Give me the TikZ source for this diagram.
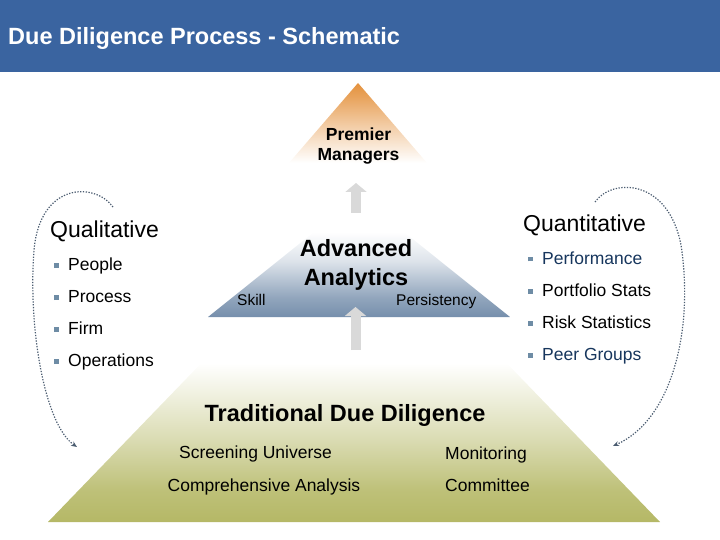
\documentclass[tikz,border=0pt]{standalone}
\usepackage{fontspec}
\setmainfont{Liberation Sans}
\usetikzlibrary{positioning,arrows.meta}

\definecolor{headblue}{RGB}{58,100,160}
\definecolor{pmorange}{RGB}{228,146,62}
\definecolor{aablue}{RGB}{118,143,172}
\definecolor{tddolive}{RGB}{181,184,102}
\definecolor{liftgrey}{RGB}{217,217,217}
\definecolor{loopgrey}{RGB}{75,92,112}
\definecolor{bulletblue}{RGB}{110,140,165}
\definecolor{navytext}{RGB}{23,54,93}

% fades: 25bp = bottom of the shape, 75bp = its top
\pgfdeclareverticalshading{pmfade}{100bp}{color(0bp)=(white); color(33bp)=(white); color(50bp)=(pmorange!40); color(68bp)=(pmorange!85); color(75bp)=(pmorange); color(100bp)=(pmorange)}
\pgfdeclareverticalshading{aafade}{100bp}{color(0bp)=(aablue); color(25bp)=(aablue); color(33bp)=(aablue!80); color(48bp)=(aablue!25); color(60bp)=(white); color(100bp)=(white)}
\pgfdeclareverticalshading{tddfade}{100bp}{color(0bp)=(tddolive); color(25bp)=(tddolive); color(30bp)=(tddolive!88); color(38bp)=(tddolive!50); color(50bp)=(white); color(100bp)=(white)}

\newcommand{\sqbullet}{{\color{bulletblue}\rule[2.5pt]{5pt}{5pt}}\hspace{9pt}}

\begin{document}
\begin{tikzpicture}[
  x=1pt, y=-1pt,
  headline/.style={font=\fontsize{23.5}{26}\selectfont\bfseries\color{white}, anchor=base west, inner sep=0},
  level/.style={font=\fontsize{23.5}{26}\selectfont\bfseries, anchor=base, inner sep=0},
  toplevel/.style={font=\fontsize{17.5}{20}\selectfont\bfseries, anchor=base, inner sep=0},
  sidehead/.style={font=\fontsize{23}{26}\selectfont, anchor=base west, inner sep=0},
  item/.style={font=\fontsize{17.5}{20}\selectfont, anchor=base west, inner sep=0},
  small/.style={font=\fontsize{15.5}{18}\selectfont, anchor=base west, inner sep=0},
  lift/.style={liftgrey, line width=10pt, -{Triangle[length=9pt, width=21pt]}},
  loop/.style={loopgrey, line width=1.2pt, dash pattern=on 1.3pt off 1.5pt, -{Stealth[length=6pt, width=5pt]}}
]
  \useasboundingbox (0,0) rectangle (720,540);
  \fill[headblue] (0,0) rectangle (720,72);
  \node (head) at (8,45) [headline] {Due Diligence Process - Schematic};

  % pyramid levels
  \shade[shading=tddfade] (354,205) -- (660,522) -- (48,522) -- cycle;
  \shade[shading=aafade] (359,196) -- (510,317) -- (208,317) -- cycle;
  \shade[shading=pmfade] (358,83) -- (440,178) -- (276,178) -- cycle;

  \node (premier) at (358.5,140.5) [toplevel] {Premier};
  \node (managers) [below=20.5pt of premier.base, toplevel] {Managers};

  \node (advanced) at (356,256.5) [level] {Advanced};
  \node (analytics) [below=28.5pt of advanced.base, level] {Analytics};
  \node (skill) at (237,305) [small] {Skill};
  \node (persist) at (396,305) [small] {Persistency};

  \node (tdd) at (345,421.5) [level] {Traditional Due Diligence};
  \node (screening) at (179,458.5) [item] {Screening Universe};
  \node (compre) [below=32.5pt of screening.base west, xshift=-11.5pt, item] {Comprehensive Analysis};
  \node (monitor) at (445,459) [item] {Monitoring};
  \node (committee) [below=32pt of monitor.base west, item] {Committee};

  \coordinate (tdd-top) at (356,213);
  \coordinate (aa-bottom) at (356,183);
  \coordinate (tdd-lift) at (355.5,350);
  \coordinate (aa-lift) at (355.5,307);
  \draw[lift] (tdd-top) -- (aa-bottom);
  \draw[lift] (tdd-lift) -- (aa-lift);

  % qualitative side
  \node (qual) at (50,237) [sidehead] {Qualitative};
  \node (people) at (54,270.5) [item] {\sqbullet People};
  \node (process) [below=32pt of people.base west, item] {\sqbullet Process};
  \node (firm) [below=32pt of process.base west, item] {\sqbullet Firm};
  \node (ops) [below=32pt of firm.base west, item] {\sqbullet Operations};

  % quantitative side
  \node (quant) at (523,231.5) [sidehead] {Quantitative};
  \node (perf) at (528,264) [item] {\sqbullet\textcolor{navytext}{Performance}};
  \node (portfolio) [below=32pt of perf.base west, item] {\sqbullet Portfolio Stats};
  \node (risk) [below=32pt of portfolio.base west, item] {\sqbullet Risk Statistics};
  \node (peer) [below=32pt of risk.base west, item] {\sqbullet\textcolor{navytext}{Peer Groups}};

  \coordinate (qual-from) at (113,207);
  \coordinate (qual-to) at (77,447);
  \coordinate (quant-from) at (595,202);
  \coordinate (quant-to) at (613,446);
  \draw[loop] (qual-from) .. controls (95,182) and (40,182) .. (34,250) .. controls (28,330) and (45,425) .. (qual-to);
  \draw[loop] (quant-from) .. controls (612,178) and (668,178) .. (681,245) .. controls (694,330) and (672,420) .. (quant-to);
\end{tikzpicture}
\end{document}
